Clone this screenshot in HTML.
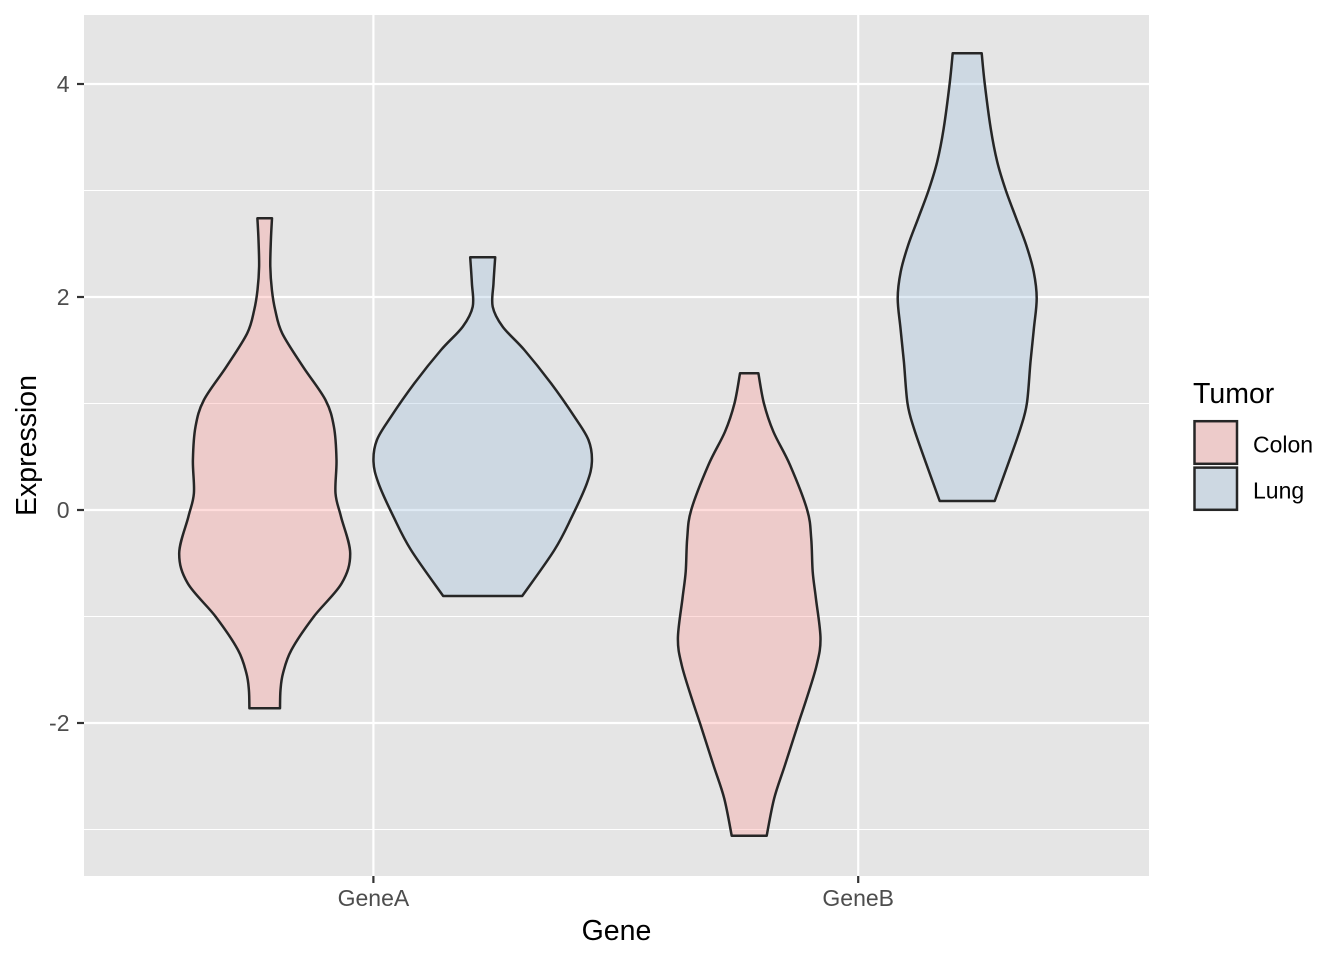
<!DOCTYPE html>
<html>
<head>
<meta charset="utf-8">
<style>
html,body{margin:0;padding:0;background:#fff;}
svg{display:block;}
text{font-family:"Liberation Sans",Arial,Helvetica,sans-serif;}
</style>
</head>
<body>
<svg id="chart" width="1344" height="960" viewBox="0 0 1344 960" xmlns="http://www.w3.org/2000/svg">
  <rect x="0" y="0" width="1344" height="960" fill="#ffffff"/>
  <!-- panel -->
  <rect x="84" y="15" width="1065" height="861" fill="#E5E5E5"/>
  <!-- minor gridlines -->
  <g stroke="#ffffff" stroke-width="1.1">
    <line x1="84" x2="1149" y1="190.5" y2="190.5"/>
    <line x1="84" x2="1149" y1="403.5" y2="403.5"/>
    <line x1="84" x2="1149" y1="616.5" y2="616.5"/>
    <line x1="84" x2="1149" y1="829.5" y2="829.5"/>
  </g>
  <!-- major gridlines -->
  <g stroke="#ffffff" stroke-width="2.2">
    <line x1="84" x2="1149" y1="84" y2="84"/>
    <line x1="84" x2="1149" y1="297" y2="297"/>
    <line x1="84" x2="1149" y1="510" y2="510"/>
    <line x1="84" x2="1149" y1="723" y2="723"/>
    <line y1="15" y2="876" x1="373.4" x2="373.4"/>
    <line y1="15" y2="876" x1="858.2" x2="858.2"/>
  </g>

  <!-- violins -->
  <g stroke="#262626" stroke-width="2.5" stroke-linejoin="round">
    <path id="vA1" fill="rgb(255,142,139)" fill-opacity="0.3" d=""/>
    <path id="vA2" fill="rgb(149,186,219)" fill-opacity="0.3" d=""/>
    <path id="vB1" fill="rgb(255,142,139)" fill-opacity="0.3" d=""/>
    <path id="vB2" fill="rgb(149,186,219)" fill-opacity="0.3" d=""/>
  </g>

  <!-- axis ticks -->
  <g stroke="#333333" stroke-width="2.2">
    <line x1="77" x2="84" y1="84" y2="84"/>
    <line x1="77" x2="84" y1="297" y2="297"/>
    <line x1="77" x2="84" y1="510" y2="510"/>
    <line x1="77" x2="84" y1="723" y2="723"/>
    <line x1="373.4" x2="373.4" y1="876" y2="883"/>
    <line x1="858.2" x2="858.2" y1="876" y2="883"/>
  </g>

  <!-- y tick labels -->
  <g fill="#4D4D4D" font-size="23" text-anchor="end">
    <text x="69.5" y="92.2">4</text>
    <text x="69.5" y="305.2">2</text>
    <text x="69.5" y="518.2">0</text>
    <text x="69.5" y="731.2">-2</text>
  </g>
  <!-- x tick labels -->
  <g fill="#4D4D4D" font-size="23" text-anchor="middle">
    <text x="373.4" y="906">GeneA</text>
    <text x="858.2" y="906">GeneB</text>
  </g>

  <!-- axis titles -->
  <text x="616.5" y="940" font-size="28.5" text-anchor="middle" fill="#000">Gene</text>
  <text transform="translate(36,445.5) rotate(-90)" font-size="28.5" text-anchor="middle" fill="#000">Expression</text>

  <!-- legend -->
  <text x="1193" y="403" font-size="28.5" fill="#000">Tumor</text>
  <rect x="1194.5" y="421.2" width="42.5" height="42.6" fill="#E5E5E5"/>
  <rect x="1194.5" y="421.2" width="42.5" height="42.6" fill="rgb(255,142,139)" fill-opacity="0.3" stroke="#262626" stroke-width="2.5"/>
  <rect x="1194.5" y="467.6" width="42.5" height="42.2" fill="#E5E5E5"/>
  <rect x="1194.5" y="467.6" width="42.5" height="42.2" fill="rgb(149,186,219)" fill-opacity="0.3" stroke="#262626" stroke-width="2.5"/>
  <text x="1253" y="452.3" font-size="23" fill="#000">Colon</text>
  <text x="1253" y="498.3" font-size="23" fill="#000">Lung</text>
</svg>
<script>
(function(){
  function crPath(p){
    var s = "";
    for (var i=0;i<p.length-1;i++){
      var p0 = p[i-1]||p[i], p1=p[i], p2=p[i+1], p3=p[i+2]||p[i+1];
      var c1x = p1[0]+(p2[0]-p0[0])/6, c1y = p1[1]+(p2[1]-p0[1])/6;
      var c2x = p2[0]-(p3[0]-p1[0])/6, c2y = p2[1]-(p3[1]-p1[1])/6;
      s += " C"+c1x.toFixed(2)+","+c1y.toFixed(2)+" "+c2x.toFixed(2)+","+c2y.toFixed(2)+" "+p2[0].toFixed(2)+","+p2[1].toFixed(2);
    }
    return s;
  }
  function violin(cx, pts){
    var r = pts.map(function(q){return [cx+q[1], q[0]];});
    var l = pts.slice().reverse().map(function(q){return [cx-q[1], q[0]];});
    var d = "M"+r[0][0].toFixed(2)+","+r[0][1].toFixed(2) + crPath(r) +
            " L"+l[0][0].toFixed(2)+","+l[0][1].toFixed(2) + crPath(l) + " Z";
    return d;
  }
  var colonA = [[218.3,7.3],[240,6.2],[266.7,5.6],[290,7.2],[310,10.5],[333.3,17.5],[366.7,38.3],[400,60.8],[426.7,69.2],[460,71.8],[493.3,70.8],[516.7,76.3],[553.3,85.5],[583.3,77],[616.7,49],[650,26.7],[673.3,18.3],[690,15.8],[708.3,15.3]];
  var lungA = [[257.3,12.5],[283.3,10.8],[306.7,10],[326.7,20],[350,41.7],[383.3,68.3],[416.7,91.7],[440,105.8],[461.7,109.2],[483.3,104.2],[516.7,89.2],[550,71.7],[596,39.5]];
  var colonB = [[373.3,9.2],[403.3,14.7],[431.7,24.2],[465,40.8],[510,58],[538.3,62],[571.7,63.5],[598.3,66.7],[638.3,71.3],[665,67.5],[698.3,57.5],[723.3,49.2],[765,35.8],[798.3,25],[835.7,17.5]];
  var lungB = [[53.3,14.5],[83.3,17.5],[128.3,23.5],[161.7,30],[190,38.5],[218.3,49],[245,59],[271.7,66.5],[298.3,69.5],[328.3,66.7],[361.7,63.3],[403.3,59.7],[428.3,53.3],[461.7,41.7],[501,27.5]];
  document.getElementById("vA1").setAttribute("d", violin(264.7, colonA));
  document.getElementById("vA2").setAttribute("d", violin(482.7, lungA));
  document.getElementById("vB1").setAttribute("d", violin(749.2, colonB));
  document.getElementById("vB2").setAttribute("d", violin(967.2, lungB));
})();
</script>
</body>
</html>
